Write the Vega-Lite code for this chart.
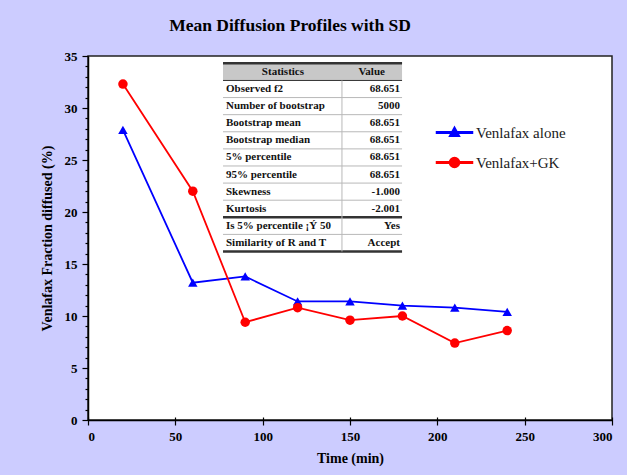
{
  "$schema": "https://vega.github.io/schema/vega-lite/v6.json",
  "width": 524,
  "height": 364,
  "autosize": {"type": "none"},
  "padding": {"left": 88, "top": 56, "right": 15, "bottom": 55},
  "background": "#ccccff",
  "title": {"text": "Mean Diffusion Profiles with SD", "font": "Liberation Serif", "fontSize": 17.5, "fontWeight": "bold", "color": "#000000", "anchor": "middle", "dx": -60, "offset": 16},
  "config": {
    "view": {"fill": "white", "stroke": "#222222", "strokeWidth": 1.5},
    "axis": {"grid": false, "domainColor": "#000000", "tickColor": "#000000", "labelFont": "Liberation Serif", "labelFontSize": 13, "labelFontWeight": "bold", "labelColor": "#000000", "titleFont": "Liberation Serif", "titleFontSize": 14, "titleFontWeight": "bold", "titleColor": "#000000", "domainWidth": 1.5, "tickWidth": 1.2}
  },
  "datasets": {
    "series": [
      {"time": 20, "frac": 27.9, "series": "Venlafax alone"},
      {"time": 60, "frac": 13.2, "series": "Venlafax alone"},
      {"time": 90, "frac": 13.8, "series": "Venlafax alone"},
      {"time": 120, "frac": 11.4, "series": "Venlafax alone"},
      {"time": 150, "frac": 11.4, "series": "Venlafax alone"},
      {"time": 180, "frac": 11.0, "series": "Venlafax alone"},
      {"time": 210, "frac": 10.8, "series": "Venlafax alone"},
      {"time": 240, "frac": 10.4, "series": "Venlafax alone"},
      {"time": 20, "frac": 32.3, "series": "Venlafax+GK"},
      {"time": 60, "frac": 22.0, "series": "Venlafax+GK"},
      {"time": 90, "frac": 9.4, "series": "Venlafax+GK"},
      {"time": 120, "frac": 10.8, "series": "Venlafax+GK"},
      {"time": 150, "frac": 9.6, "series": "Venlafax+GK"},
      {"time": 180, "frac": 10.0, "series": "Venlafax+GK"},
      {"time": 210, "frac": 7.4, "series": "Venlafax+GK"},
      {"time": 240, "frac": 8.6, "series": "Venlafax+GK"}
    ],
    "table": [
      {"row": 0, "stat": "Statistics", "value": "Value"},
      {"row": 1, "stat": "Observed f2", "value": "68.651"},
      {"row": 2, "stat": "Number of bootstrap", "value": "5000"},
      {"row": 3, "stat": "Bootstrap mean", "value": "68.651"},
      {"row": 4, "stat": "Bootstrap median", "value": "68.651"},
      {"row": 5, "stat": "5% percentile", "value": "68.651"},
      {"row": 6, "stat": "95% percentile", "value": "68.651"},
      {"row": 7, "stat": "Skewness", "value": "-1.000"},
      {"row": 8, "stat": "Kurtosis", "value": "-2.001"},
      {"row": 9, "stat": "Is 5% percentile ¡Ý 50", "value": "Yes"},
      {"row": 10, "stat": "Similarity of R and T", "value": "Accept"}
    ]
  },
  "layer": [
    {
      "data": {"name": "series"},
      "mark": {"type": "point", "filled": true, "size": 100, "opacity": 0},
      "encoding": {
        "x": {"field": "time", "type": "quantitative", "scale": {"domain": [0, 300], "nice": false},
          "axis": {"values": [0, 50, 100, 150, 200, 250, 300], "title": "Time (min)", "tickSize": 5, "labelPadding": 5, "titlePadding": 8,
            "encoding": {"ticks": {"y": {"value": -3}}}}},
        "y": {"field": "frac", "type": "quantitative", "scale": {"domain": [0, 35], "nice": false}, "axis": null},
        "color": {"field": "series", "type": "nominal",
          "scale": {"domain": ["Venlafax alone", "Venlafax+GK"], "range": ["#0000ff", "#ff0000"]},
          "legend": {"title": null, "orient": "none", "legendX": 359, "legendY": 69,
            "labelFont": "Liberation Serif", "labelFontSize": 15, "labelColor": "#1a1a1a", "labelOffset": 14, "rowPadding": 13,
            "symbolSize": 100, "symbolOpacity": 1}},
        "shape": {"field": "series", "type": "nominal",
          "scale": {"domain": ["Venlafax alone", "Venlafax+GK"],
            "range": ["M-3.6,-0.16L3.6,-0.16L3.6,0.16L-3.6,0.16ZM0,-1.1L1,0.75L-1,0.75Z", "M-3.6,-0.16L3.6,-0.16L3.6,0.16L-3.6,0.16ZM1,0A1,1,0,1,1,-1,0A1,1,0,1,1,1,0Z"]}}
      }
    },
    {
      "data": {"name": "series"},
      "mark": {"type": "line", "strokeWidth": 1.8},
      "encoding": {
        "x": {"field": "time", "type": "quantitative"},
        "y": {"field": "frac", "type": "quantitative", "scale": {"domain": [0, 35], "nice": false},
          "axis": {"values": [0,1,2,3,4,5,6,7,8,9,10,11,12,13,14,15,16,17,18,19,20,21,22,23,24,25,26,27,28,29,30,31,32,33,34,35],
            "labelExpr": "datum.value % 5 === 0 ? datum.label : ''", "labelOverlap": false,
            "title": "Venlafax Fraction diffused (%)", "tickSize": 6, "labelPadding": 5, "titlePadding": 10,
            "encoding": {"ticks": {"x2": {"value": {"expr": "datum.value % 5 === 0 ? -6 : -3"}}}}}},
        "color": {"field": "series", "type": "nominal"}
      }
    },
    {
      "data": {"name": "series"},
      "transform": [{"filter": "datum.series === 'Venlafax alone'"}],
      "mark": {"type": "point", "shape": "triangle-up", "filled": true, "size": 90, "opacity": 1},
      "encoding": {
        "x": {"field": "time", "type": "quantitative"},
        "y": {"field": "frac", "type": "quantitative", "scale": {"domain": [0, 35], "nice": false}, "axis": null},
        "color": {"field": "series", "type": "nominal"}
      }
    },
    {
      "data": {"name": "series"},
      "transform": [{"filter": "datum.series === 'Venlafax+GK'"}],
      "mark": {"type": "point", "shape": "circle", "filled": true, "size": 90, "opacity": 1},
      "encoding": {
        "x": {"field": "time", "type": "quantitative"},
        "y": {"field": "frac", "type": "quantitative", "scale": {"domain": [0, 35], "nice": false}, "axis": null},
        "color": {"field": "series", "type": "nominal"}
      }
    },
    {
      "data": {"name": "table"},
      "transform": [{"filter": "datum.row === 0"}],
      "mark": {"type": "rect", "fill": "#c8c8c8"},
      "encoding": {
        "x": {"datum": 77.3, "type": "quantitative"},
        "x2": {"datum": 179.8},
        "y": {"datum": -0.5, "type": "quantitative", "scale": {"domain": [-0.93, 20.35], "reverse": true, "nice": false, "zero": false}, "axis": null},
        "y2": {"datum": 0.5}
      }
    },
    {
      "data": {"name": "table"},
      "transform": [{"filter": "datum.row === 0"}],
      "mark": {"type": "rule", "yOffset": -8.55, "stroke": "#333333", "strokeWidth": 2.5},
      "encoding": {
        "x": {"datum": 77.3, "type": "quantitative"},
        "x2": {"datum": 179.8},
        "y": {"field": "row", "type": "quantitative", "scale": {"domain": [-0.93, 20.35], "reverse": true, "nice": false, "zero": false}, "axis": null}
      }
    },
    {
      "data": {"name": "table"},
      "mark": {"type": "rule", "yOffset": 8.55},
      "encoding": {
        "x": {"datum": 77.3, "type": "quantitative"},
        "x2": {"datum": 179.8},
        "y": {"field": "row", "type": "quantitative", "scale": {"domain": [-0.93, 20.35], "reverse": true, "nice": false, "zero": false}, "axis": null},
        "stroke": {"condition": {"test": "datum.row === 0 || datum.row === 8 || datum.row === 10", "value": "#333333"}, "value": "#b8b8b8"},
        "strokeWidth": {"condition": {"test": "datum.row === 8 || datum.row === 10", "value": 2.5}, "value": 1}
      }
    },
    {
      "data": {"name": "table"},
      "transform": [{"filter": "datum.row === 0"}],
      "mark": {"type": "rule", "stroke": "#b8b8b8", "strokeWidth": 1},
      "encoding": {
        "x": {"datum": 145.4, "type": "quantitative"},
        "y": {"datum": 0.5, "type": "quantitative", "scale": {"domain": [-0.93, 20.35], "reverse": true, "nice": false, "zero": false}, "axis": null},
        "y2": {"datum": 10.5}
      }
    },
    {
      "data": {"name": "table"},
      "transform": [{"filter": "datum.row === 0"}],
      "mark": {"type": "text", "font": "Liberation Serif", "fontSize": 11, "fontWeight": "bold", "color": "#111111", "align": "center", "baseline": "middle"},
      "encoding": {
        "x": {"datum": 111.6, "type": "quantitative"},
        "y": {"field": "row", "type": "quantitative", "scale": {"domain": [-0.93, 20.35], "reverse": true, "nice": false, "zero": false}, "axis": null},
        "text": {"field": "stat"}
      }
    },
    {
      "data": {"name": "table"},
      "transform": [{"filter": "datum.row === 0"}],
      "mark": {"type": "text", "font": "Liberation Serif", "fontSize": 11, "fontWeight": "bold", "color": "#111111", "align": "center", "baseline": "middle"},
      "encoding": {
        "x": {"datum": 162.4, "type": "quantitative"},
        "y": {"field": "row", "type": "quantitative", "scale": {"domain": [-0.93, 20.35], "reverse": true, "nice": false, "zero": false}, "axis": null},
        "text": {"field": "value"}
      }
    },
    {
      "data": {"name": "table"},
      "transform": [{"filter": "datum.row > 0"}],
      "mark": {"type": "text", "font": "Liberation Serif", "fontSize": 11, "fontWeight": "bold", "color": "#111111", "align": "left", "baseline": "middle"},
      "encoding": {
        "x": {"datum": 79, "type": "quantitative"},
        "y": {"field": "row", "type": "quantitative", "scale": {"domain": [-0.93, 20.35], "reverse": true, "nice": false, "zero": false}, "axis": null},
        "text": {"field": "stat"}
      }
    },
    {
      "data": {"name": "table"},
      "transform": [{"filter": "datum.row > 0"}],
      "mark": {"type": "text", "font": "Liberation Serif", "fontSize": 11, "fontWeight": "bold", "color": "#111111", "align": "right", "baseline": "middle"},
      "encoding": {
        "x": {"datum": 178.6, "type": "quantitative"},
        "y": {"field": "row", "type": "quantitative", "scale": {"domain": [-0.93, 20.35], "reverse": true, "nice": false, "zero": false}, "axis": null},
        "text": {"field": "value"}
      }
    }
  ],
  "resolve": {"scale": {"y": "independent"}}
}
